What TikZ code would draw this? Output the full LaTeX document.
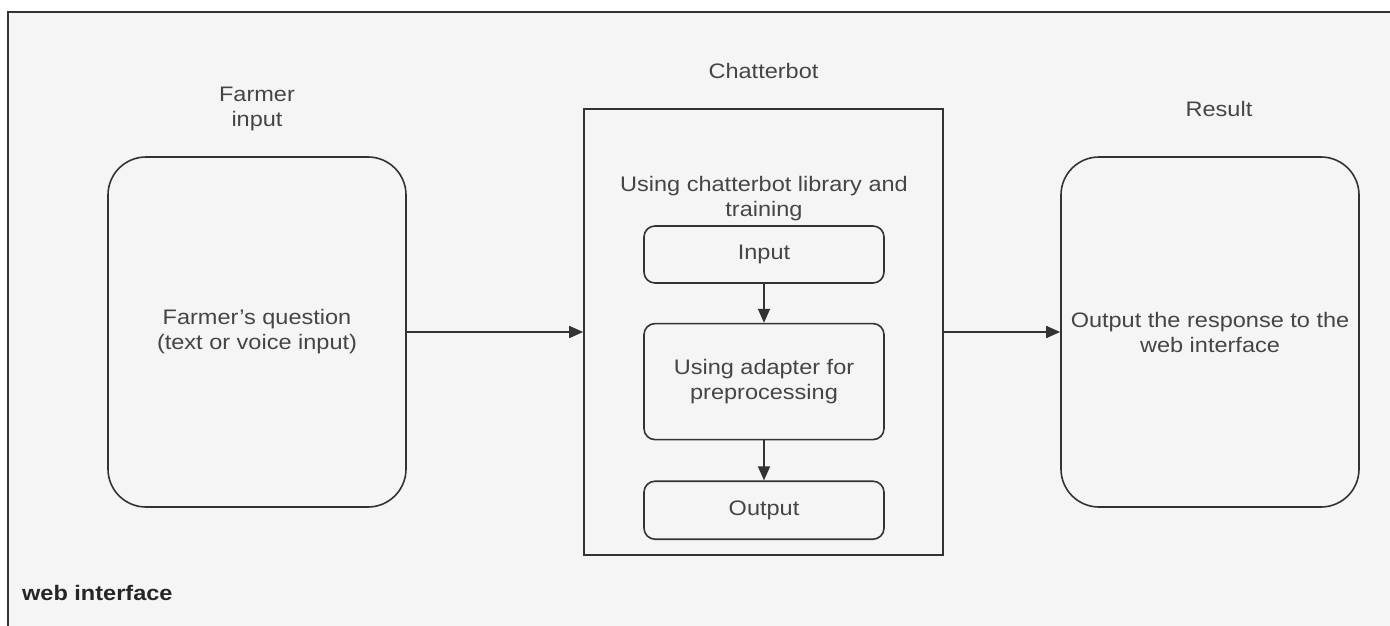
\documentclass[tikz,border=0pt]{standalone}
\usepackage{fontspec}
\setmainfont{Liberation Sans}[FakeStretch=1.12]
\usepackage{tikz}
\usetikzlibrary{arrows.meta,positioning}
\definecolor{LineGray}{HTML}{333333}
\definecolor{TextGray}{HTML}{454545}
\definecolor{PaneGray}{HTML}{F5F5F5}
\tikzset{
	bigbox/.style={
		draw=LineGray, line width=1.6pt, rounded corners=38pt,
		minimum width=298pt, minimum height=350pt, align=center},
	stagebox/.style={
		draw=LineGray, line width=1.6pt, rounded corners=11pt,
		minimum width=240pt, align=center},
	caption/.style={align=center, inner sep=0pt},
	flow/.style={draw=LineGray, line width=1.6pt, -{Triangle[length=14pt,width=12pt]}}
}

\begin{document}
\begin{tikzpicture}[x=1pt,y=-1pt,font=\fontsize{21}{25}\selectfont,text=TextGray]
			\useasboundingbox (0,0) rectangle (1390,626);
			\fill[white] (0,0) rectangle (1390,626);
			\fill[PaneGray] (8,12) rectangle (1390,626);
			\draw[LineGray, line width=1.6pt] (1390,12) -- (8,12) -- (8,626); % page frame, cut at the edges
			\node[anchor=base west, inner sep=0pt, text=black!85, font=\fontsize{21}{25}\selectfont\bfseries] (weblbl) at (22,600) {web interface};

			\node[bigbox] (farmer) at (257,332) {Farmer's question\\(text or voice input)};
			\node[caption, above=25pt of farmer] (farmerlbl) {Farmer\\input};

			\node[draw=LineGray, line width=1.6pt, minimum width=359pt, minimum height=446pt] (bot) at (763.5,332) {};
			\node[caption, above=29pt of bot] (botlbl) {Chatterbot};
			\node[stagebox, minimum height=57pt] (inp) at (764,254.5) {Input};
			\node[caption, above=4pt of inp] (libnote) {Using chatterbot library and\\training};
			\node[stagebox, minimum height=116pt, below=39pt of inp] (adapt) {Using adapter for\\preprocessing};
			\node[stagebox, minimum height=58pt, below=40pt of adapt] (outp) {Output};

			\node[bigbox] (result) at (1210,332) {Output the response to the\\web interface};
			\node[caption, above=39pt of result, xshift=9pt] (resultlbl) {Result};

			\draw[flow] (farmer) -- (bot);
			\draw[flow] (bot) -- (result);
			\draw[flow] (inp) -- (adapt);
			\draw[flow] (adapt) -- (outp);
\end{tikzpicture}
\end{document}
